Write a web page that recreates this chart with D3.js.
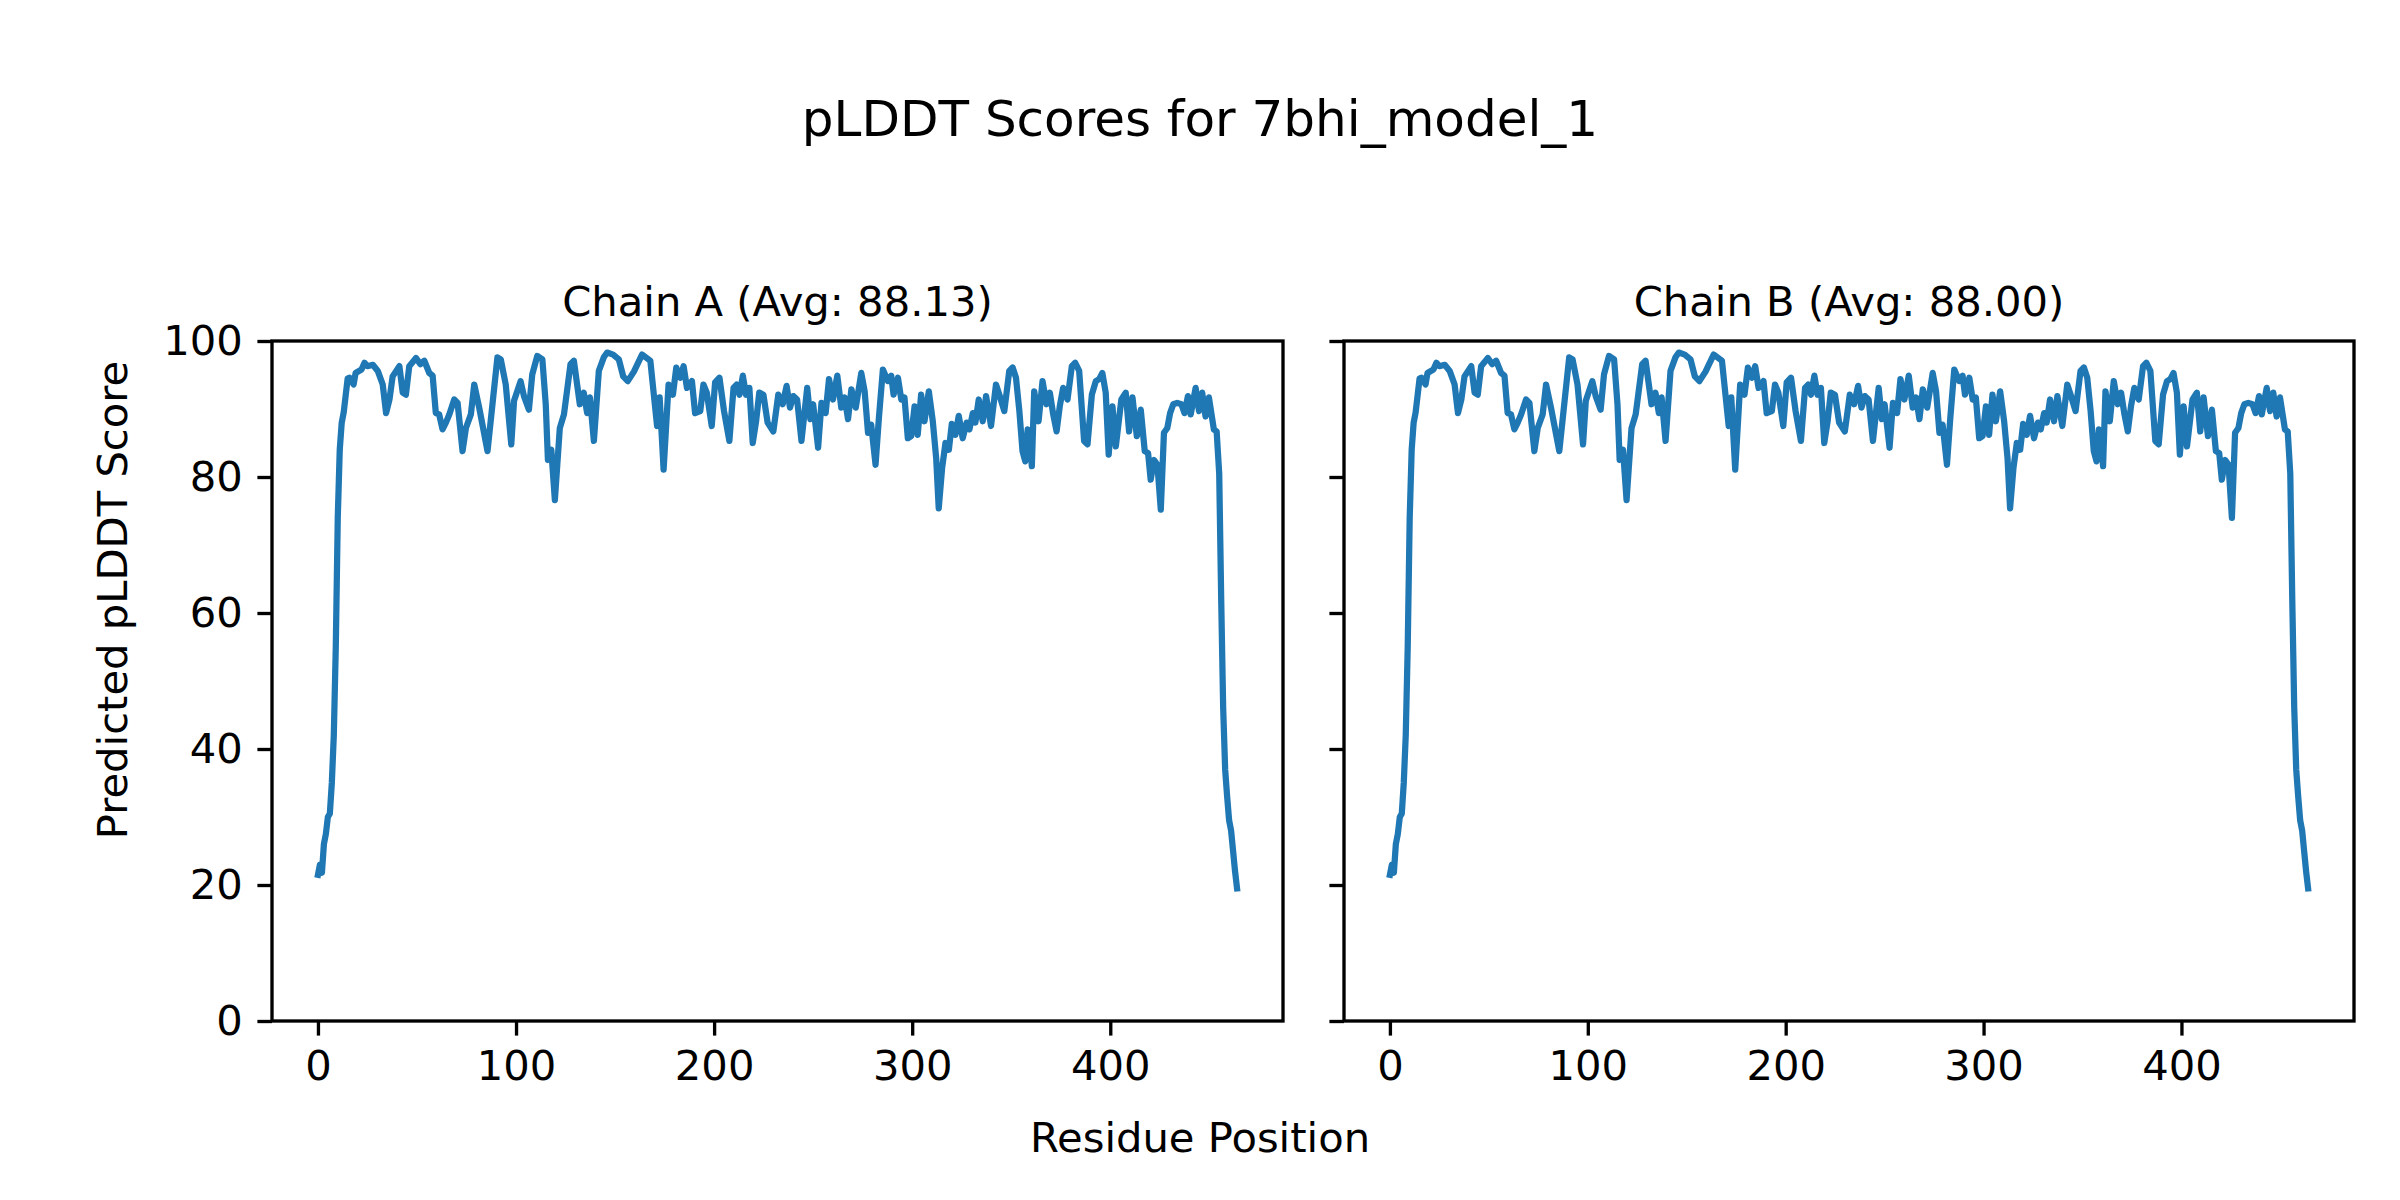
<!DOCTYPE html>
<html>
<head>
<meta charset="utf-8">
<script src="https://cdn.jsdelivr.net/npm/d3@7/dist/d3.min.js"></script>
<style>
  body { margin: 0; background: #ffffff; }
  text { font-family: "DejaVu Sans", sans-serif; fill: #000; }
</style>
</head>
<body>
<div id="plddt-chart"></div>
<script>

//Residue positions (shared by both chains)
var residues = [
    0, 1, 2, 3, 4, 5, 6, 7, 8, 9,
    10, 11, 12, 13, 14, 15, 16, 18, 19, 22,
    23.5, 25, 27.7, 30.2, 32.7, 34.4, 36.1, 37.7, 41.1, 42.8,
    44.4, 46.1, 49.5, 51.7, 53.7, 56.2, 57.9, 59.5, 61.2, 62.9,
    64.6, 66.3, 68.8, 70.5, 73.0, 74.7, 77.2, 78.9, 81.4, 85.6,
    90.6, 92.3, 94.8, 97.6, 99, 102.3, 104, 106.5, 108.2, 110.7,
    113.3, 115, 116.1, 117.8, 119.6, 122.1, 124.2, 127.5, 129.2, 132.2,
    134.2, 135.9, 137.3, 139.3, 141.8, 144.3, 146, 149, 151.9, 154.1,
    156.4, 159.5, 163.6, 167.8, 171.2, 172.5, 174.5, 177, 179.2, 180.9,
    182.9, 184.6, 186.3, 188.8, 190.4, 193, 194.6, 196.3, 198.8, 200.5,
    202.7, 205, 207.7, 209.8, 211.4, 212.8, 214.5, 216.1, 217.8, 219.5,
    221.2, 222.8, 224.9, 227, 229.9, 232.4, 234.6, 236.6, 238.3, 240,
    241.9, 244.1, 247, 248.6, 250, 252.5, 254.2, 256.3, 258, 260,
    262.2, 264.2, 265.9, 267.6, 269.3, 271.5, 274.3, 276, 277.7, 279.3,
    281.5, 283.2, 285.2, 287.7, 289.4, 290.6, 292.8, 294.5, 296.1, 297.8,
    299.5, 301.2, 302.8, 304.5, 306.2, 308.4, 310.4, 312.1, 313.4, 315.1,
    316.8, 318.5, 320, 321.8, 323.5, 325.5, 327.5, 328.9, 330.6, 331.9,
    333.6, 335.6, 337.3, 339.8, 342.3, 344, 346.5, 349, 350.7, 352.4,
    354.1, 355.7, 357.1, 358.3, 359.1, 360.4, 361.6, 363.8, 365.8, 367.8,
    369.5, 371.2, 372.9, 374.5, 376.2, 378.4, 380.6, 382.3, 384.3, 386.8,
    388.5, 390.7, 392.7, 394.4, 396, 397.7, 399.2, 401.1, 402.8, 405.6,
    407.8, 409.5, 411.2, 413.4, 415.4, 417.4, 419.1, 420.4, 422.1, 423.8,
    425.5, 427.1, 428.8, 430.2, 431.8, 433.8, 435.9, 437.5, 439.2, 440.6,
    443.1, 444.8, 446.4, 448.1, 449.8, 452.3, 453.7, 455, 456, 457,
    458, 459, 460, 461, 462, 463, 464
];

//pLDDT values, chain A
var chainA = [
    21.5, 23, 21.8, 26, 27.5, 30, 30.5, 35, 42, 55,
    74, 84, 88, 89.5, 92, 94.5, 94.6, 93.6, 95.3, 95.8,
    96.8, 96.3, 96.5, 95.6, 93.6, 89.4, 91.4, 94.8, 96.3, 92.4,
    92.1, 96.3, 97.5, 96.6, 97.1, 95.3, 94.9, 89.4, 89.2, 87.0,
    88.0, 89.2, 91.4, 90.9, 83.8, 87.2, 89.2, 93.6, 90.2, 83.8,
    97.6, 97.3, 93.6, 84.8, 91.2, 94.1, 91.9, 89.9, 95.1, 97.8,
    97.3, 90.7, 82.5, 84.0, 76.6, 87.2, 89.2, 96.6, 97.1, 90.7,
    92.4, 89.4, 91.7, 85.3, 95.6, 97.6, 98.3, 98.0, 97.3, 94.8,
    94.1, 95.5, 98.0, 97.1, 87.5, 91.7, 81.1, 93.6, 92.1, 96.1,
    94.6, 96.3, 93.1, 94.1, 89.4, 89.7, 93.6, 92.4, 87.5, 93.9,
    94.6, 89.7, 85.3, 93.1, 93.6, 92.1, 94.9, 92.1, 93.1, 85.0,
    88.2, 92.4, 92.1, 88.0, 86.7, 92.1, 90.7, 93.4, 90.2, 91.9,
    91.4, 85.3, 93.1, 88.5, 90.7, 84.3, 90.9, 89.4, 94.4, 91.4,
    94.9, 90.2, 91.7, 88.5, 92.9, 90.2, 95.3, 92.6, 86.5, 87.7,
    81.8, 88.7, 95.8, 94.1, 94.9, 92.1, 94.6, 91.4, 91.7, 85.7,
    86.0, 90.4, 86.2, 92.1, 88.2, 92.6, 88.2, 82.8, 75.4, 81.3,
    85.0, 84.0, 87.8, 86.2, 89.0, 85.7, 88.0, 87.0, 89.4, 88.0,
    91.4, 88.2, 91.9, 87.5, 93.6, 92.1, 89.7, 95.6, 96.1, 94.6,
    89.7, 83.8, 82.3, 87.0, 86.2, 81.6, 92.6, 88.2, 94.1, 90.7,
    92.4, 89.2, 86.7, 90.4, 93.1, 91.4, 96.3, 96.8, 95.6, 85.3,
    84.8, 92.1, 94.1, 94.4, 95.3, 92.4, 83.3, 90.4, 84.5, 91.4,
    92.4, 86.7, 91.7, 86.0, 89.9, 83.8, 83.5, 79.6, 82.5, 81.8,
    75.2, 86.5, 87.2, 89.4, 90.7, 90.9, 90.7, 89.4, 91.9, 89.2,
    93.1, 89.7, 92.4, 88.9, 91.7, 87.0, 86.7, 80.5, 62, 46,
    37, 33, 29.5, 28, 25, 22, 19.5
];

//pLDDT values, chain B
var chainB = [
    21.5, 23, 21.8, 26, 27.5, 30, 30.5, 35, 42, 55,
    74, 84, 88, 89.5, 92, 94.5, 94.6, 93.6, 95.3, 95.8,
    96.8, 96.3, 96.5, 95.6, 93.6, 89.4, 91.4, 94.8, 96.3, 92.4,
    92.1, 96.3, 97.5, 96.6, 97.1, 95.3, 94.9, 89.4, 89.2, 87.0,
    88.0, 89.2, 91.4, 90.9, 83.8, 87.2, 89.2, 93.6, 90.2, 83.8,
    97.6, 97.3, 93.6, 84.8, 91.2, 94.1, 91.9, 89.9, 95.1, 97.8,
    97.3, 90.7, 82.5, 84.0, 76.6, 87.2, 89.2, 96.6, 97.1, 90.7,
    92.4, 89.4, 91.7, 85.3, 95.6, 97.6, 98.3, 98.0, 97.3, 94.8,
    94.1, 95.5, 98.0, 97.1, 87.5, 91.7, 81.1, 93.6, 92.1, 96.1,
    94.6, 96.3, 93.1, 94.1, 89.4, 89.7, 93.6, 92.4, 87.5, 93.9,
    94.6, 89.7, 85.3, 93.1, 93.6, 92.1, 94.9, 92.1, 93.1, 85.0,
    88.2, 92.4, 92.1, 88.0, 86.7, 92.1, 90.7, 93.4, 90.2, 91.9,
    91.4, 85.3, 93.1, 88.5, 90.7, 84.3, 90.9, 89.4, 94.4, 91.4,
    94.9, 90.2, 91.7, 88.5, 92.9, 90.2, 95.3, 92.6, 86.5, 87.7,
    81.8, 88.7, 95.8, 94.1, 94.9, 92.1, 94.6, 91.4, 91.7, 85.7,
    86.0, 90.4, 86.2, 92.1, 88.2, 92.6, 88.2, 82.8, 75.4, 81.3,
    85.0, 84.0, 87.8, 86.2, 89.0, 85.7, 88.0, 87.0, 89.4, 88.0,
    91.4, 88.2, 91.9, 87.5, 93.6, 92.1, 89.7, 95.6, 96.1, 94.6,
    89.7, 83.8, 82.3, 87.0, 86.2, 81.6, 92.6, 88.2, 94.1, 90.7,
    92.4, 89.2, 86.7, 90.4, 93.1, 91.4, 96.3, 96.8, 95.6, 85.3,
    84.8, 92.1, 94.1, 94.4, 95.3, 92.4, 83.3, 90.4, 84.5, 91.4,
    92.4, 86.7, 91.7, 86.0, 89.9, 83.8, 83.5, 79.6, 82.5, 81.8,
    74.0, 86.5, 87.2, 89.4, 90.7, 90.9, 90.7, 89.4, 91.9, 89.2,
    93.1, 89.7, 92.4, 88.9, 91.7, 87.0, 86.7, 80.5, 62, 46,
    37, 33, 29.5, 28, 25, 22, 19.5
];

var chainTitles = ["Chain A (Avg: 88.13)", "Chain B (Avg: 88.00)"];
var xTicks = [0, 100, 200, 300, 400];
var yTicks = [0, 20, 40, 60, 80, 100];

/**
 * Constructor for the pLDDT figure
 */
function PlddtChart(){
    var self = this;
    self.init();
};

/**
 * Creates the svg and the fixed figure texts
 */
PlddtChart.prototype.init = function(){
    var self = this;
    self.svgWidth = 2400;
    self.svgHeight = 1200;
    self.top = 341;
    self.bottom = 1021;
    self.fontSize = 41.7;
    self.tickLen = 14.6;

    self.svg = d3.select("#plddt-chart").append("svg")
        .attr("width", self.svgWidth)
        .attr("height", self.svgHeight);

    self.svg.append("rect")
        .attr("width", self.svgWidth)
        .attr("height", self.svgHeight)
        .attr("fill", "white");

    //figure title
    self.svg.append("text")
        .attr("x", 1200)
        .attr("y", 136)
        .attr("text-anchor", "middle")
        .style("font-size", "50px")
        .text("pLDDT Scores for 7bhi_model_1");

    //shared axis labels
    self.svg.append("text")
        .attr("x", 1200)
        .attr("y", 1152)
        .attr("text-anchor", "middle")
        .style("font-size", self.fontSize + "px")
        .text("Residue Position");

    self.svg.append("text")
        .attr("transform", "translate(127,600) rotate(-90)")
        .attr("text-anchor", "middle")
        .style("font-size", self.fontSize + "px")
        .text("Predicted pLDDT Score");
};

//Draws one chain panel
PlddtChart.prototype.update = function(left, right, title, scores, showLabels){
    var self = this;

    var xScale = d3.scaleLinear()
        .domain([-23.2, 487.2])
        .range([left, right]);

    var yScale = d3.scaleLinear()
        .domain([0, 100])
        .range([self.bottom, self.top]);

    var points = residues.map(function (r, i) { return [r, scores[i]]; });

    var line = d3.line()
        .x(function (d) { return xScale(d[0]); })
        .y(function (d) { return yScale(d[1]); });

    var panel = self.svg.append("g");

    panel.append("path")
        .datum(points)
        .attr("d", line)
        .attr("fill", "none")
        .attr("stroke", "#1f77b4")
        .attr("stroke-width", 6.25)
        .attr("stroke-linejoin", "round")
        .attr("stroke-linecap", "square");

    var xAxis = d3.axisBottom(xScale)
        .tickValues(xTicks)
        .tickSize(self.tickLen)
        .tickSizeOuter(0)
        .tickPadding(14.6)
        .tickFormat(d3.format("d"));

    var yAxis = d3.axisLeft(yScale)
        .tickValues(yTicks)
        .tickSize(self.tickLen)
        .tickSizeOuter(0)
        .tickPadding(14.6)
        .tickFormat(showLabels ? d3.format("d") : "");

    var gx = panel.append("g")
        .attr("transform", "translate(0," + self.bottom + ")")
        .call(xAxis);

    var gy = panel.append("g")
        .attr("transform", "translate(" + left + ",0)")
        .call(yAxis);

    [gx, gy].forEach(function (g) {
        g.select(".domain").remove();
        g.selectAll(".tick line").attr("stroke", "black").attr("stroke-width", 3.33);
        g.selectAll(".tick text")
            .attr("fill", "black")
            .style("font-family", "'DejaVu Sans', sans-serif")
            .style("font-size", self.fontSize + "px");
    });

    //spines
    panel.append("rect")
        .attr("x", left)
        .attr("y", self.top)
        .attr("width", right - left)
        .attr("height", self.bottom - self.top)
        .attr("fill", "none")
        .attr("stroke", "black")
        .attr("stroke-width", 3.33);

    panel.append("text")
        .attr("x", (left + right) / 2)
        .attr("y", self.top - 25)
        .attr("text-anchor", "middle")
        .style("font-size", self.fontSize + "px")
        .text(title);
};

var chart = new PlddtChart();
chart.update(272, 1283, chainTitles[0], chainA, true);
chart.update(1344, 2354, chainTitles[1], chainB, false);

</script>
</body>
</html>
